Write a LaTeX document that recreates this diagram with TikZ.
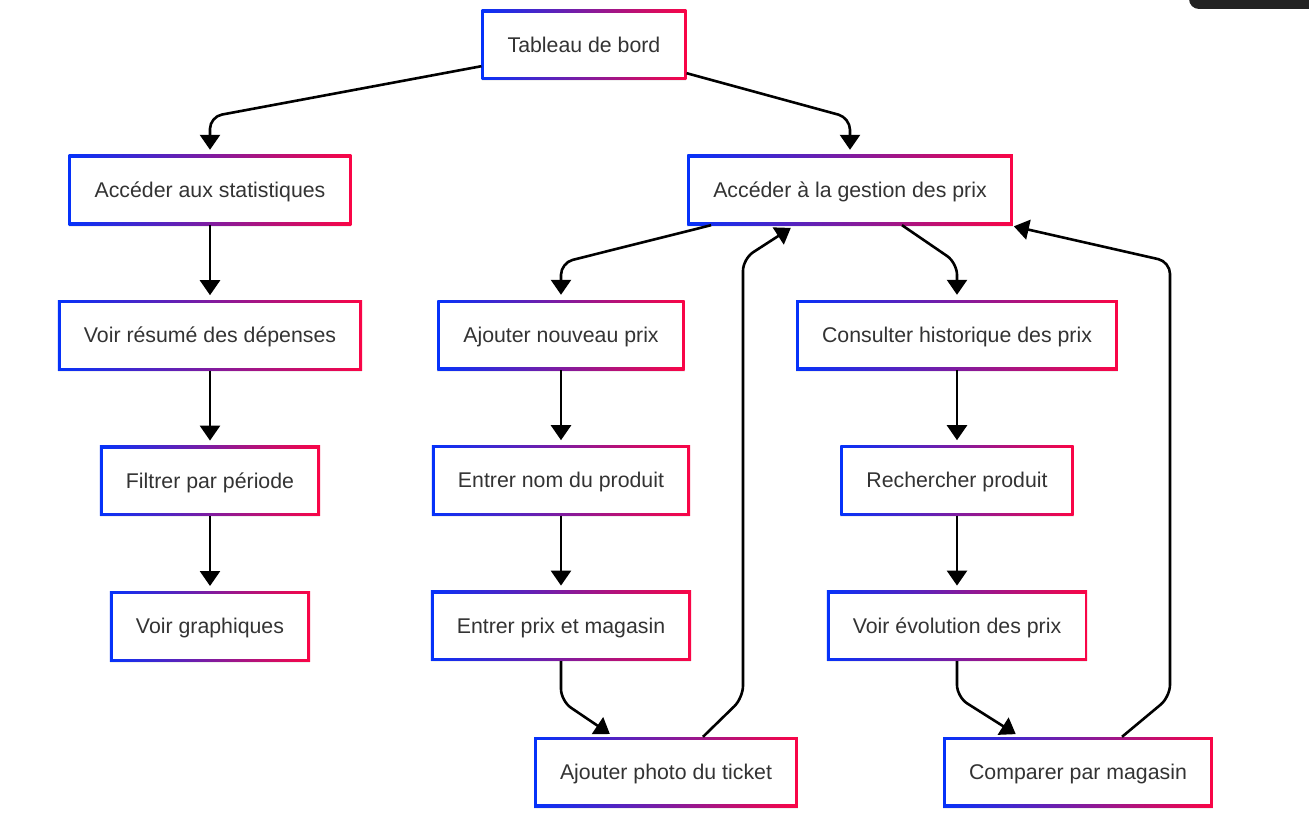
\documentclass[tikz,border=0pt]{standalone}
\usepackage{fontspec}
\setmainfont{Liberation Sans}
\usetikzlibrary{arrows.meta,%
                       positioning,%
                       shadows}
\definecolor{gradblue}{RGB}{5,50,250}
\definecolor{gradred}{RGB}{250,5,70}
\definecolor{textgray}{RGB}{51,51,51}
\definecolor{barblack}{RGB}{34,34,34}
\tikzset{flowbox/.style={
			  rectangle,
			  drop shadow     = {opacity=0.12, shadow xshift=0pt, shadow yshift=-1.5pt},
			  left color      = gradblue,
			  right color     = gradred,
			  path picture    = {\fill[white] ([shift={(2.7pt,2.7pt)}]path picture bounding box.south west) rectangle ([shift={(-2.7pt,-2.7pt)}]path picture bounding box.north east);},
			  minimum height  = 70pt,
			  inner xsep      = 26pt,
			  inner ysep      = 4pt,
			  text height     = 15pt,
			  text depth      = 0pt,
			  text            = textgray,
			  font            = \fontsize{21.3pt}{25pt}\selectfont
			}}
\tikzset{link/.style={
			  ->,
			  line width      = 2.6pt,
			  rounded corners = 12pt,
			  shorten >       = 5pt
			}}
\begin{document}
\begin{tikzpicture}[x=1pt, y=-1pt, node distance=75pt, >={Triangle[length=15pt,width=20pt]}]
    \useasboundingbox (0,0) rectangle (1309,832);
    % dark bar in the corner
    \begin{scope}
      \clip (0,0) rectangle (1309,832);
      \fill [barblack, rounded corners=10pt] (1189,-20) rectangle (1340,9);
    \end{scope}

    \node (board)    [flowbox] at (584,45)   {Tableau de bord};
    \node (stats)    [flowbox] at (210,190)  {Accéder aux statistiques};
    \node (prices)   [flowbox] at (850,190)  {Accéder à la gestion des prix};
    \node (summary)  [flowbox, below=of stats]    {Voir résumé des dépenses};
    \node (period)   [flowbox, below=of summary]  {Filtrer par période};
    \node (charts)   [flowbox, below=of period]   {Voir graphiques};
    \node (addprice) [flowbox] at (561,335)  {Ajouter nouveau prix};
    \node (name)     [flowbox, below=of addprice] {Entrer nom du produit};
    \node (shop)     [flowbox, below=of name]     {Entrer prix et magasin};
    \node (photo)    [flowbox] at (666,772)  {Ajouter photo du ticket};
    \node (history)  [flowbox] at (957,335)  {Consulter historique des prix};
    \node (search)   [flowbox, below=of history]  {Rechercher produit};
    \node (trend)    [flowbox, below=of search]   {Voir évolution des prix};
    \node (compare)  [flowbox] at (1078,772) {Comparer par magasin};

    \draw [link] ([yshift=14pt]board.south west) -- ([yshift=38pt]stats.north) -- (stats.north);
    \draw [link] ([yshift=7pt]board.south east)  -- ([yshift=37pt]prices.north) -- (prices.north);
    \draw [link] (stats)    -- (summary);
    \draw [link] (summary)  -- (period);
    \draw [link] (period)   -- (charts);
    \draw [link] ([xshift=24pt]prices.south west) -- ([yshift=37pt]addprice.north) -- (addprice.north);
    \draw [link] ([xshift=52pt]prices.south) -- ([yshift=37pt]history.north) -- (history.north);
    \draw [link] (addprice) -- (name);
    \draw [link] (name)     -- (shop);
    \draw [link] (shop.south) -- ([yshift=-40pt]shop.south) -- ([xshift=-52pt]photo.north);
    \draw [link] (history)  -- (search);
    \draw [link] (search)   -- (trend);
    \draw [link] (trend.south) -- ([yshift=-36pt]trend.south) -- ([xshift=-58pt]compare.north);
% 
    \draw [link] ([xshift=37pt]photo.north) -- ++(40pt,39pt) -- ++(0pt,439pt) -- ([xshift=-55pt]prices.south);
    \draw [link] ([xshift=44pt]compare.north) -- ++(48pt,40pt) -- ++(0pt,435pt) -- ([xshift=-4pt]prices.south east);

  \end{tikzpicture}
\end{document}
